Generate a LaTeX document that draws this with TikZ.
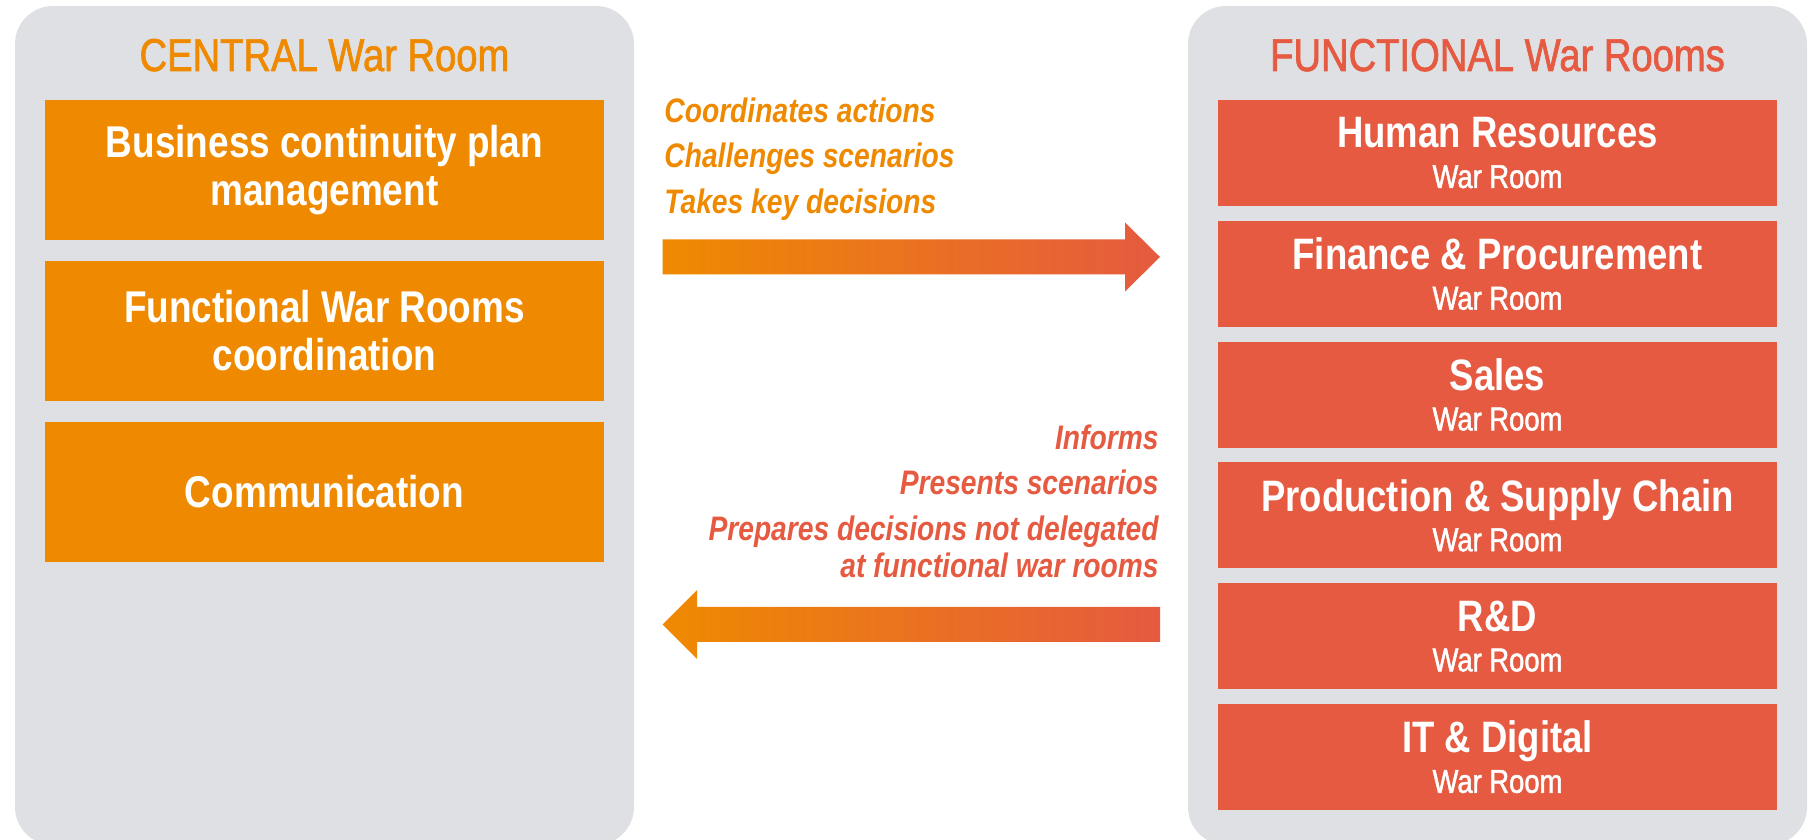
\documentclass[tikz,border=0pt]{standalone}
\usepackage{fontspec}
\setmainfont{Liberation Sans}[FakeStretch=0.83]
\newfontfamily\titlefont{Liberation Sans}[FakeStretch=0.83, FakeBold=1.5]
\usetikzlibrary{positioning, calc}
\definecolor{warorange}{RGB}{239,138,0}
\definecolor{warred}{RGB}{229,90,64}
\definecolor{panelgray}{RGB}{223,224,228}
\newcommand{\roomsub}{\titlefont\mdseries\fontsize{16.5pt}{20pt}\selectfont}

\begin{document}
\begin{tikzpicture}[
			x=0.5pt, y=0.5pt,
			every node/.style={inner sep=0pt},
			panel/.style={rectangle, fill=panelgray, rounded corners=19pt, minimum width=309.5pt, minimum height=419.5pt},
			title/.style={anchor=base, font=\titlefont\fontsize{23pt}{26pt}\selectfont},
			centralbox/.style={rectangle, fill=warorange, text=white, minimum width=279.5pt, minimum height=70pt, align=center, font=\bfseries\fontsize{22.25pt}{24pt}\selectfont},
			roombox/.style={rectangle, fill=warred, text=white, minimum width=279.5pt, minimum height=53pt, align=center, font=\bfseries\fontsize{22pt}{20pt}\selectfont},
			flow/.style={font=\bfseries\itshape\fontsize{17pt}{22.75pt}\selectfont},
			flowarrow/.style={left color=warorange, right color=warred}
			]
			\useasboundingbox (0,0) rectangle (1809,840);
			\clip (0,0) rectangle (1809,840);
			
			% Panels
			\node[panel] (central) at (324.5,414.5) {};
			\node[panel] (functional) at (1497.5,414.5) {};
			\node[title, text=warorange] (centraltitle) at (324.5,769) {CENTRAL War Room};
			\node[title, text=warred] (functionaltitle) at (1497.5,769) {FUNCTIONAL War Rooms};
			
			% Central war room tasks
			\node[centralbox] (bcp) at (324.5,670) {Business continuity plan\\management};
			\node[centralbox, below=10pt of bcp] (coord) {Functional War Rooms\\coordination};
			\node[centralbox, below=10pt of coord] (comm) {Communication};
			
			% Functional war rooms
			\node[roombox] (hr) at (1497.5,687) {Human Resources\\{\roomsub War Room}};
			\node[roombox, below=7pt of hr] (finance) {Finance \& Procurement\\{\roomsub War Room}};
			\node[roombox, below=7pt of finance] (sales) {Sales\\{\roomsub War Room}};
			\node[roombox, below=7pt of sales] (production) {Production \& Supply Chain\\{\roomsub War Room}};
			\node[roombox, below=7pt of production] (rnd) {R\&D\\{\roomsub War Room}};
			\node[roombox, below=7pt of rnd] (it) {IT \& Digital\\{\roomsub War Room}};
			
			% Labels
			\node[flow, text=warorange, align=left, anchor=north west] (fwdlabel) at (664,743) {Coordinates actions\\Challenges scenarios\\Takes key decisions};
			\node[flow, text=warred, align=right, anchor=north east] (backlabel) at (1159,416) {Informs\\Presents scenarios\\Prepares decisions not delegated\\[-4.25pt]at functional war rooms};
			
			% Arrows
			\coordinate (fwdtail) at (662.5,583);
			\coordinate (fwdtip) at (1160,583);
			\coordinate (backtail) at (1160,215.5);
			\coordinate (backtip) at (662.5,215.5);
			\shade[flowarrow] ($(fwdtail)+(0,17.5)$) -- ($(fwdtip)+(-35,17.5)$) -- ($(fwdtip)+(-35,34.5)$) -- (fwdtip) -- ($(fwdtip)+(-35,-34.5)$) -- ($(fwdtip)+(-35,-17.5)$) -- ($(fwdtail)+(0,-17.5)$) -- cycle;
			\shade[flowarrow] ($(backtail)+(0,17.5)$) -- ($(backtip)+(34.5,17.5)$) -- ($(backtip)+(34.5,34.5)$) -- (backtip) -- ($(backtip)+(34.5,-34.5)$) -- ($(backtip)+(34.5,-17.5)$) -- ($(backtail)+(0,-17.5)$) -- cycle;
			
		\end{tikzpicture}
\end{document}
